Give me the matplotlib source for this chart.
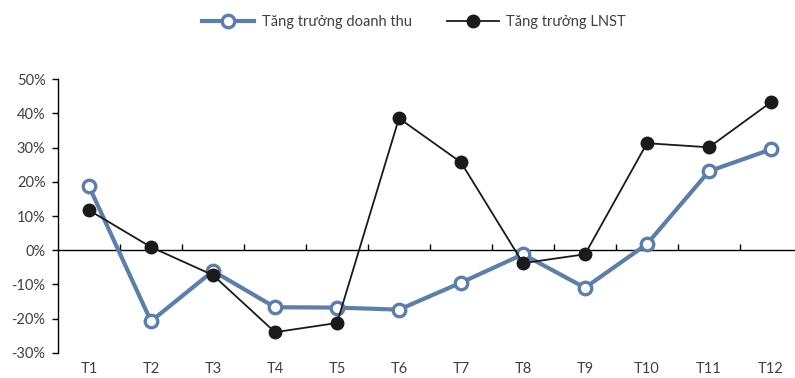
import matplotlib
matplotlib.use("Agg")
import matplotlib.pyplot as plt
import numpy as np

months = ["T1", "T2", "T3", "T4", "T5", "T6", "T7", "T8", "T9", "T10", "T11", "T12"]
revenue_growth = [18.7, -20.8, -6.1, -16.7, -16.8, -17.4, -9.5, -1.2, -11.0, 1.8, 23.1, 29.5]
profit_growth = [11.7, 0.9, -7.3, -24.0, -21.3, 38.6, 25.7, -3.8, -1.2, 31.3, 30.1, 43.3]
y_ticks = [-30, -20, -10, 0, 10, 20, 30, 40, 50]

plt.rcParams["font.family"] = ["Lato", "DejaVu Sans"]
text_color = "#404040"
blue = "#5F7EA7"

fig = plt.figure(figsize=(7.95, 3.78), dpi=100)
ax = fig.add_axes([58 / 795, 1 - 352.7 / 378, 744 / 795, (352.7 - 79.3) / 378])

x = np.arange(len(months))
ax.plot(x, revenue_growth, color=blue, lw=3.0, marker="o", ms=9,
        mfc="white", mec=blue, mew=2.4, label="Tăng trưởng doanh thu", zorder=3)
ax.plot(x, profit_growth, color="#1a1a1a", lw=1.3, marker="o", ms=9,
        mfc="#1a1a1a", mec="#1a1a1a", label="Tăng trưởng LNST", zorder=4)

ax.set_xlim(-0.5, len(months) - 0.5)
ax.set_ylim(-30, 50)

# y axis
ax.set_yticks(y_ticks)
ax.set_yticklabels([f"{v}%" for v in y_ticks])
ax.tick_params(axis="y", direction="out", length=4, width=1, colors="black",
               labelcolor=text_color, labelsize=10.5, pad=5)

# category axis: spine on the zero line with boundary ticks
for s in ["top", "right"]:
    ax.spines[s].set_visible(False)
ax.spines["bottom"].set_position(("data", 0))
ax.spines["left"].set_linewidth(1)
ax.spines["bottom"].set_linewidth(1)
ax.set_xticks(x[:-1] + 0.5)
ax.set_xticklabels([])
ax.tick_params(axis="x", direction="in", length=4, width=1, colors="black")

sec = ax.secondary_xaxis("bottom")
sec.set_xticks(x)
sec.set_xticklabels(months)
sec.spines["bottom"].set_visible(False)
sec.tick_params(axis="x", length=0, pad=7, labelsize=10.5, labelcolor=text_color)

fig.legend(loc="center", bbox_to_anchor=(414 / 795, 1 - 22 / 378), ncol=2,
           frameon=False, fontsize=10.5, handlelength=3.6, columnspacing=2.4,
           handletextpad=0.5, labelcolor=text_color)

fig.savefig("out.png", dpi=100)
